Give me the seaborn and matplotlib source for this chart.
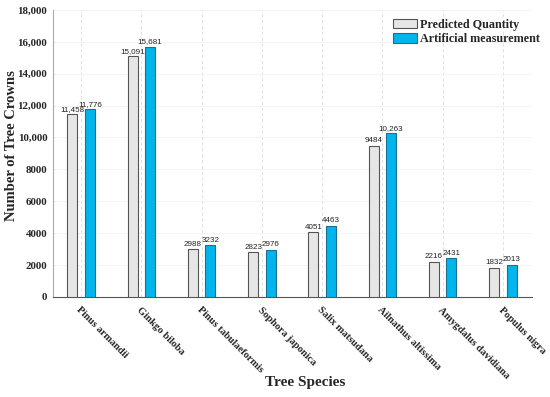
import pandas as pd
import seaborn as sns
import matplotlib.pyplot as plt
from matplotlib.ticker import FuncFormatter

# 数据
species = ['Pinus armandii', 'Ginkgo biloba', 'Pinus tabulaeformis', 'Sophora japonica',
           'Salix matsudana', 'Ailnathus altissima', 'Amygdalus davidiana', 'Populus nigra']
predicted = [11458, 15091, 2988, 2823, 4051, 9484, 2216, 1832]
measured = [11776, 15681, 3232, 2976, 4463, 10263, 2431, 2013]
series = ['Predicted Quantity', 'Artificial measurement']
colors = ['#e6e6e6', '#00b4ec']
edges = ['#555555', '#1a6f92']

df = pd.DataFrame({
    'Species': species * 2,
    'Count': predicted + measured,
    'Type': [series[0]] * len(species) + [series[1]] * len(species),
})

sns.set_style('white')
serif = 'Liberation Serif'
sans = 'Liberation Sans'


def fmt_num(v):
    v = int(round(v))
    return f'{v:,}' if v >= 10000 else str(v)


fig = plt.figure(figsize=(5.5, 3.97), dpi=100)
ax = fig.add_axes([0.096, 0.252, 0.871, 0.723])

sns.barplot(data=df, x='Species', y='Count', hue='Type', order=species,
            hue_order=series, palette=colors, saturation=1, width=0.58, gap=0.42,
            linewidth=0.8, ax=ax, zorder=3)

for cont, ec in zip(ax.containers, edges):
    for p in cont:
        p.set_edgecolor(ec)
    ax.bar_label(cont, labels=[fmt_num(v) for v in cont.datavalues], padding=1,
                 fontsize=5.8, family=sans, color='#222222')

ax.set_ylim(0, 18000)
ax.set_xlim(-0.47, 7.48)
ax.set_yticks(range(0, 18001, 2000))
ax.yaxis.set_major_formatter(FuncFormatter(lambda v, _: fmt_num(v)))

# 网格
ax.grid(axis='x', linestyle=(0, (4, 3)), color='#dddddd', linewidth=0.6, zorder=0)
ax.grid(axis='y', linestyle='-', color='#f2f2f2', linewidth=0.6, zorder=0)

for lab in ax.get_yticklabels():
    lab.set_fontfamily(serif)
    lab.set_fontweight('bold')
    lab.set_fontsize(7.8)
ax.set_xticks(range(len(species)))
ax.set_xticklabels(species, rotation=-45, ha='left', va='top', rotation_mode='anchor',
                   family=serif, fontweight='bold', fontsize=7.5)

ax.tick_params(axis='y', length=0, pad=4)
ax.tick_params(axis='x', direction='in', length=3, color='#888888', pad=6)

for s in ['top', 'right']:
    ax.spines[s].set_visible(False)
ax.spines['left'].set_color('#aaaaaa')
ax.spines['bottom'].set_color('#555555')
ax.spines['left'].set_linewidth(0.8)
ax.spines['bottom'].set_linewidth(0.8)

ax.set_ylabel('Number of Tree Crowns', family=serif, fontweight='bold', fontsize=10.5)
ax.yaxis.set_label_coords(-0.072, 0.526)
ax.set_xlabel('Tree Species', family=serif, fontweight='bold', fontsize=11)
ax.xaxis.set_label_coords(0.526, -0.275)

handles, labels = ax.get_legend_handles_labels()
for h, ec in zip(handles, edges):
    h.set_edgecolor(ec)
    h.set_linewidth(0.8)
ax.legend(handles, labels, loc='upper left', bbox_to_anchor=(0.71, 0.97), frameon=False,
          prop={'family': serif, 'weight': 'bold', 'size': 8.7},
          handlelength=2.0, handleheight=0.85, handletextpad=0.25, labelspacing=0.2,
          borderaxespad=0, borderpad=0)

plt.savefig('out.png', dpi=100)
